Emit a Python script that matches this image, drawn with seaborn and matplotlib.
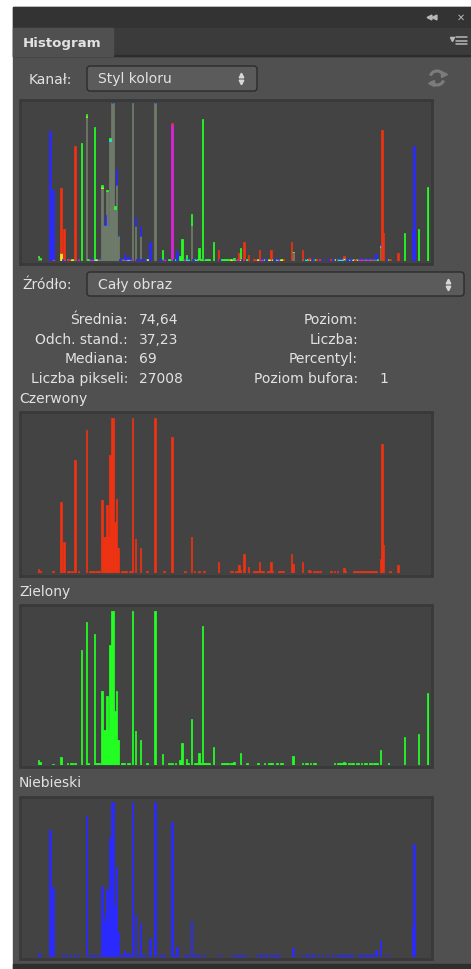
import numpy as np
import matplotlib
matplotlib.use("Agg")
import matplotlib.pyplot as plt
from matplotlib.patches import Rectangle, FancyBboxPatch, Arc
import seaborn as sns

# --- histogram data: level (0-255) -> relative height ---
red_levels = [10, 11, 19, 24, 26, 28, 29, 31, 33, 35, 40, 42, 43, 44, 46, 47, 48,
              50, 51, 52, 53, 54, 55, 56, 57, 58, 59, 60, 62, 63, 64, 65, 67, 68,
              69, 71, 74, 78, 83, 89, 94, 102, 106, 108, 111, 114, 123, 131, 132,
              134, 135, 136, 137, 139, 142, 145, 146, 147, 148, 149, 150, 151, 154,
              155, 156, 157, 161, 162, 163, 164, 169, 170, 176, 180, 181, 183, 185,
              187, 194, 196, 198, 202, 203, 208, 209, 210, 211, 212, 213, 214, 215,
              216, 217, 218, 219, 220, 221, 222, 225, 226, 227, 231, 236]
red_values = [0.025, 0.015, 0.01, 0.46, 0.20, 0.01, 0.01, 0.01, 0.73, 0.01, 0.92, 0.01,
              0.01, 0.01, 0.01, 0.01, 0.01,
              0.47, 0.23, 0.23, 0.44, 0.23, 0.76, 1.0, 1.0, 0.33, 0.48, 0.16, 0.01,
              0.01, 0.01, 0.01, 0.01, 0.01,
              1.0, 0.22, 0.16, 0.01, 1.0, 0.01, 0.875, 0.01, 0.23, 0.01, 0.01, 0.01,
              0.07, 0.01, 0.01, 0.01, 0.01, 0.05, 0.02, 0.12, 0.04, 0.01, 0.01, 0.01,
              0.01, 0.07, 0.01, 0.01, 0.01, 0.01, 0.07, 0.01, 0.01, 0.01, 0.01, 0.01,
              0.12, 0.06, 0.07, 0.02, 0.015, 0.01, 0.01, 0.01, 0.01, 0.01, 0.01, 0.03,
              0.01, 0.01, 0.01, 0.01, 0.01, 0.01, 0.01, 0.01, 0.01, 0.01, 0.01, 0.01,
              0.01, 0.01, 0.01, 0.01, 0.09, 0.83, 0.18, 0.01, 0.05]

green_levels = [10, 11, 19, 24, 28, 30, 31, 33, 37, 40, 41, 45, 46, 47, 48,
                50, 51, 52, 53, 54, 55, 56, 57, 58, 59, 60, 62, 63, 64, 66, 67,
                69, 71, 74, 78, 83, 88, 92, 94, 96, 99, 100, 103, 104, 106, 108, 109,
                110, 111, 112, 113, 114, 115, 116, 117, 120, 125, 126, 127, 128, 129,
                131, 132, 133, 137, 141, 148, 152, 155, 156, 157, 160, 162, 163, 170,
                176, 178, 179, 181, 183, 184, 196, 198, 199, 200, 201, 202, 203, 205,
                207, 208, 210, 211, 213, 215, 216, 218, 219, 221, 222, 223, 225, 230,
                240, 249, 255]
green_values = [0.03, 0.02, 0.008, 0.05, 0.01, 0.01, 0.01, 0.01, 0.745, 0.93, 0.01, 0.85,
                0.01, 0.01, 0.01,
                0.48, 0.23, 0.23, 0.45, 0.23, 0.78, 1.0, 1.0, 0.35, 0.48, 0.16, 0.01,
                0.01, 0.01, 0.01, 0.01,
                1.0, 0.22, 0.16, 0.01, 1.0, 0.07, 0.01, 0.01, 0.01, 0.03, 0.14, 0.04,
                0.01, 0.30, 0.01, 0.01, 0.01, 0.08, 0.01, 0.90, 0.01, 0.01, 0.01, 0.01,
                0.12, 0.01, 0.01, 0.01, 0.01, 0.01, 0.01, 0.01, 0.02, 0.08, 0.01, 0.01,
                0.01, 0.01, 0.015, 0.01, 0.01, 0.01, 0.01, 0.06, 0.01, 0.01, 0.01, 0.01,
                0.01, 0.015, 0.01, 0.01, 0.01, 0.01, 0.01, 0.02, 0.01, 0.01, 0.01, 0.01,
                0.01, 0.01, 0.01, 0.01, 0.01, 0.01, 0.01, 0.01, 0.01, 0.01, 0.10, 0.01,
                0.18, 0.20, 0.47]

blue_levels = [10, 11, 17, 18, 19,
               25, 26, 28, 30, 33, 35,
               40,
               42, 43, 44, 45, 47, 48,
               50, 51, 52, 53, 54, 55, 56, 57, 58, 59, 60,
               61, 62, 63, 64, 65, 66, 67, 68,
               69, 71, 72, 73, 74, 75, 76, 77, 80, 83, 86, 87, 88, 89, 94, 95, 97,
               102, 103, 104, 106, 107, 109, 111, 114, 124, 132, 134, 136, 138, 140,
               147, 149, 150, 151, 153, 154, 156, 158, 160, 161,
               170, 176, 178, 180, 182, 183, 186, 188, 192, 195,
               198, 199, 200, 201, 202, 203, 204, 205, 206, 207,
               211, 212, 213, 214, 215, 216, 217, 218, 219, 220, 221,
               222, 225, 229, 245, 246]
blue_values = [0.024, 0.015, 0.82, 0.18, 0.45,
               0.01, 0.01, 0.01, 0.01, 0.01, 0.01,
               0.91,
               0.01, 0.01, 0.01, 0.01, 0.01, 0.01,
               0.46, 0.23, 0.29, 0.44, 0.23, 0.77, 1.0, 1.0, 0.33, 0.58, 0.16,
               0.01, 0.01, 0.01, 0.045, 0.02, 0.025, 0.01, 0.01,
               1.0, 0.28, 0.01, 0.01, 0.22, 0.01, 0.01, 0.01, 0.12, 1.0, 0.01, 0.01, 0.01, 0.01, 0.87, 0.01, 0.065,
               0.01, 0.01, 0.01, 0.23, 0.01, 0.01, 0.01, 0.01, 0.01, 0.01, 0.01, 0.01, 0.01, 0.01,
               0.01, 0.01, 0.01, 0.015, 0.01, 0.01, 0.01, 0.01, 0.01, 0.01,
               0.056, 0.01, 0.01, 0.015, 0.01, 0.01, 0.01, 0.01, 0.01, 0.01,
               0.01, 0.01, 0.01, 0.01, 0.01, 0.01, 0.01, 0.01, 0.01, 0.01,
               0.01, 0.01, 0.01, 0.01, 0.01, 0.01, 0.01, 0.01, 0.01, 0.01, 0.01,
               0.045, 0.11, 0.01, 0.20, 0.73]

stat_labels = ["Średnia:", "Odch. stand.:", "Mediana:", "Liczba pikseli:"]
stat_values = ["74,64", "37,23", "69", "27008"]
info_labels = ["Poziom:", "Liczba:", "Percentyl:", "Poziom bufora:"]
info_values = ["", "", "", "1"]
channel_names = ["Czerwony", "Zielony", "Niebieski"]

# --- colours ---
PANEL = "#505050"
PLOT_BG = "#434343"
FRAME = "#393939"
TEXT = "#e2e2e2"
RED = "#ee3212"
GREEN = "#22ff22"
BLUE = "#2a2aff"
GRAY = "#6f7b6a"
PAIR = {(0, 1): "#eeee22", (0, 2): "#dd22dd", (1, 2): "#22e6e6"}
SINGLE = [RED, GREEN, BLUE]
FS = 10

W, H = 471, 970

sns.set_style("dark")
plt.rcParams["font.family"] = ["DejaVu Sans"]


def full_hist(levels, values):
    h = np.zeros(256)
    h[np.array(levels)] = values
    return h


def hist_axes(fig, x, y, w, h):
    ax = fig.add_axes([x / W, 1 - (y + h) / H, w / W, h / H])
    ax.set_facecolor("none")
    ax.set_xlim(0, 256)
    ax.set_ylim(0, 1.0)
    ax.set_axis_off()
    return ax


def draw_channel(ax, levels, values, color):
    x = np.array(levels) + 0.5
    sns.histplot(x=x, weights=values, bins=256, binrange=(0, 256), color=color,
                 element="bars", fill=True, alpha=1, linewidth=0.55,
                 edgecolor=color, ax=ax)
    ax.set_xlim(0, 256)
    ax.set_ylim(0, 1.0)
    ax.set_axis_off()


def draw_composite(ax, r, g, b):
    lv = np.arange(256)
    stack = np.vstack([r, g, b])
    order = np.argsort(stack, axis=0, kind="stable")
    lo = stack[order[0], lv]
    mid = stack[order[1], lv]
    hi = stack[order[2], lv]
    pair_cols = [PAIR[tuple(sorted((order[1, i], order[2, i])))] for i in lv]
    top_cols = [SINGLE[order[2, i]] for i in lv]
    kw = dict(width=1.0, align="edge", linewidth=0.55)
    ax.bar(lv, lo, color=GRAY, edgecolor=GRAY, **kw)
    ax.bar(lv, mid - lo, bottom=lo, color=pair_cols, edgecolor=pair_cols, **kw)
    ax.bar(lv, hi - mid, bottom=mid, color=top_cols, edgecolor=top_cols, **kw)


fig = plt.figure(figsize=(W / 100, H / 100), dpi=100, facecolor="white")
ui = fig.add_axes([0, 0, 1, 1])
ui.set_xlim(0, W)
ui.set_ylim(H, 0)
ui.set_axis_off()

# panel chrome
ui.add_patch(Rectangle((13, 8), W - 13, H - 8, color=PANEL, zorder=0))
ui.add_patch(Rectangle((13, 8), W - 13, 21, color="#333333", zorder=1))
ui.add_patch(Rectangle((13, 29), W - 13, 28, color="#3b3b3b", zorder=1))
ui.add_patch(Rectangle((13, 56), W - 13, 1, color="#2c2c2c", zorder=1))
ui.add_patch(Rectangle((13, 29), 100, 28, color=PANEL, zorder=2))
ui.add_patch(Rectangle((13, 965), W - 13, 5, color="#2e2e2e", zorder=1))
ui.text(23, 43, "Histogram", color=TEXT, fontsize=9.6, fontweight="bold",
        va="center", ha="left", zorder=3)

# collapse / close / menu icons
ui.plot([429, 434], [18, 18], ls="none", marker="<", ms=3.5, color="#b8b8b8", zorder=3)
ui.text(461, 18, "✕", color="#b8b8b8", fontsize=7, fontweight="bold",
        ha="center", va="center", zorder=3)
ui.plot([452], [40], ls="none", marker="v", ms=3, color="#b8b8b8", zorder=3)
for yy in (38, 41.5, 45):
    ui.plot([456, 467], [yy, yy], color="#b8b8b8", lw=1.1, zorder=3)


def dropdown(x0, y0, w, h, label):
    ui.add_patch(FancyBboxPatch((x0, y0), w, h, boxstyle="round,pad=0,rounding_size=3",
                                facecolor="#5b5b5b", edgecolor="#2c2c2c", lw=1.0, zorder=2))
    ui.text(x0 + 11, y0 + h / 2, label, color=TEXT, fontsize=FS, va="center",
            ha="left", zorder=3)
    ax_ = x0 + w - 16
    ui.plot([ax_], [y0 + h / 2 - 3.5], ls="none", marker="^", ms=3.3, color="#d8d8d8", zorder=3)
    ui.plot([ax_], [y0 + h / 2 + 3.5], ls="none", marker="v", ms=3.3, color="#d8d8d8", zorder=3)


ui.text(29, 80, "Kanał:", color=TEXT, fontsize=FS, va="center", ha="left")
dropdown(87, 67, 170, 25, "Styl koloru")

# refresh icon
ui.add_patch(Arc((437, 79), 14, 14, theta1=200, theta2=330, color="#7c7c7c", lw=2.2, zorder=3))
ui.add_patch(Arc((437, 79), 14, 14, theta1=20, theta2=150, color="#7c7c7c", lw=2.2, zorder=3))
ui.plot([443.5], [74.5], ls="none", marker=">", ms=4, color="#7c7c7c", zorder=3)
ui.plot([430.5], [83.5], ls="none", marker="<", ms=4, color="#7c7c7c", zorder=3)

ui.text(22, 285, "Źródło:", color=TEXT, fontsize=FS, va="center", ha="left")
dropdown(87, 273, 377, 24, "Cały obraz")

# statistics block
row_y = [320, 340, 359, 379]
for yy, lab, val, ilab, ival in zip(row_y, stat_labels, stat_values, info_labels, info_values):
    ui.text(128, yy, lab, color=TEXT, fontsize=FS, va="center", ha="right")
    ui.text(139, yy, val, color=TEXT, fontsize=FS, va="center", ha="left")
    ui.text(358, yy, ilab, color=TEXT, fontsize=FS, va="center", ha="right")
    ui.text(379, yy, ival, color=TEXT, fontsize=FS, va="center", ha="left")

# histogram frames
frames = [(101, 164), (413, 164), (606, 162), (798, 162)]
for fy, fh in frames:
    ui.add_patch(Rectangle((20, fy), 412, fh, facecolor=PLOT_BG, edgecolor=FRAME,
                           lw=2, zorder=2))

for name, ty in zip(channel_names, [399, 592, 783]):
    ui.text(19, ty, name, color=TEXT, fontsize=FS, va="center", ha="left")

r = full_hist(red_levels, red_values)
g = full_hist(green_levels, green_values)
b = full_hist(blue_levels, blue_values)

ax_main = hist_axes(fig, 22, 104, 407, 158)
draw_composite(ax_main, r, g, b)

ax_r = hist_axes(fig, 22, 419, 407, 155)
draw_channel(ax_r, red_levels, red_values, RED)
ax_g = hist_axes(fig, 22, 612, 407, 154)
draw_channel(ax_g, green_levels, green_values, GREEN)
ax_b = hist_axes(fig, 22, 803, 407, 155)
draw_channel(ax_b, blue_levels, blue_values, BLUE)

fig.savefig("out.png", dpi=100, facecolor="white")
